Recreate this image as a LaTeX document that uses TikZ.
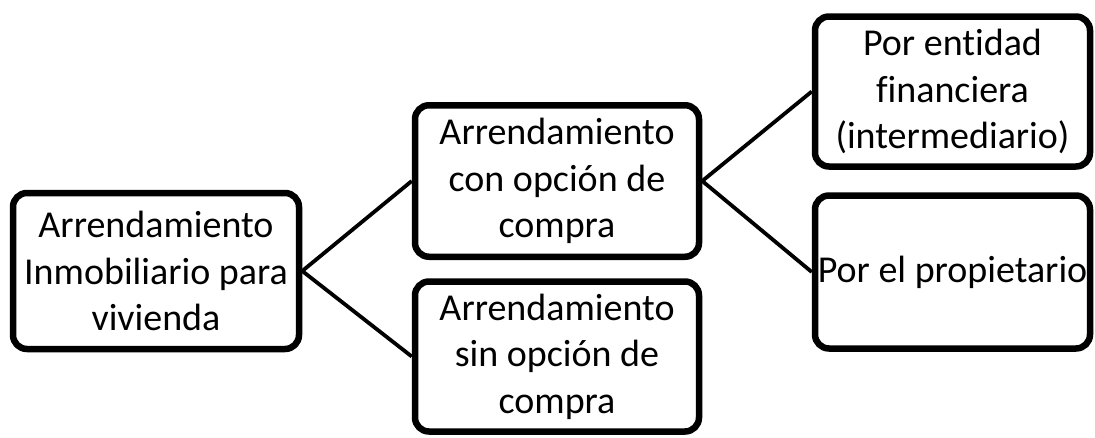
\documentclass[tikz,border=0pt]{standalone}
\usepackage{fontspec}
\setmainfont{Carlito}[Ligatures=NoCommon]
\usetikzlibrary{shadows}
\begin{document}
\begin{tikzpicture}[x=1pt,y=-1pt,
  boxnode/.style={draw=black, line width=6.5pt, rounded corners=14pt, fill=white,
    align=center, inner sep=0pt, font=\fontsize{38}{46.5}\selectfont,
    drop shadow={opacity=0.18, shadow xshift=1pt, shadow yshift=-2.5pt}},
  link/.style={draw=black, line width=3.8pt}]
\useasboundingbox (0,0) rectangle (1095,437);
\node[boxnode, minimum width=286pt, minimum height=156pt] (root) at (156,271)
  {Arrendamiento\\Inmobiliario para\\vivienda};
\node[boxnode, minimum width=284pt, minimum height=151.5pt] (con) at (557,181)
  {Arrendamiento\\con opción de\\compra};
\node[boxnode, minimum width=284pt, minimum height=150pt] (sin) at (557,356.5)
  {Arrendamiento\\sin opción de\\compra};
\node[boxnode, minimum width=275pt, minimum height=150pt] (ent) at (952.5,91.5)
  {Por entidad\\financiera\\(intermediario)};
\node[boxnode, minimum width=275pt, minimum height=153pt] (pro) at (952.5,272)
  {Por el propietario};
\draw[link] (root.east) -- (con.west);
\draw[link] (root.east) -- (sin.west);
\draw[link] (con.east) -- (ent.west);
\draw[link] (con.east) -- (pro.west);
\end{tikzpicture}
\end{document}
